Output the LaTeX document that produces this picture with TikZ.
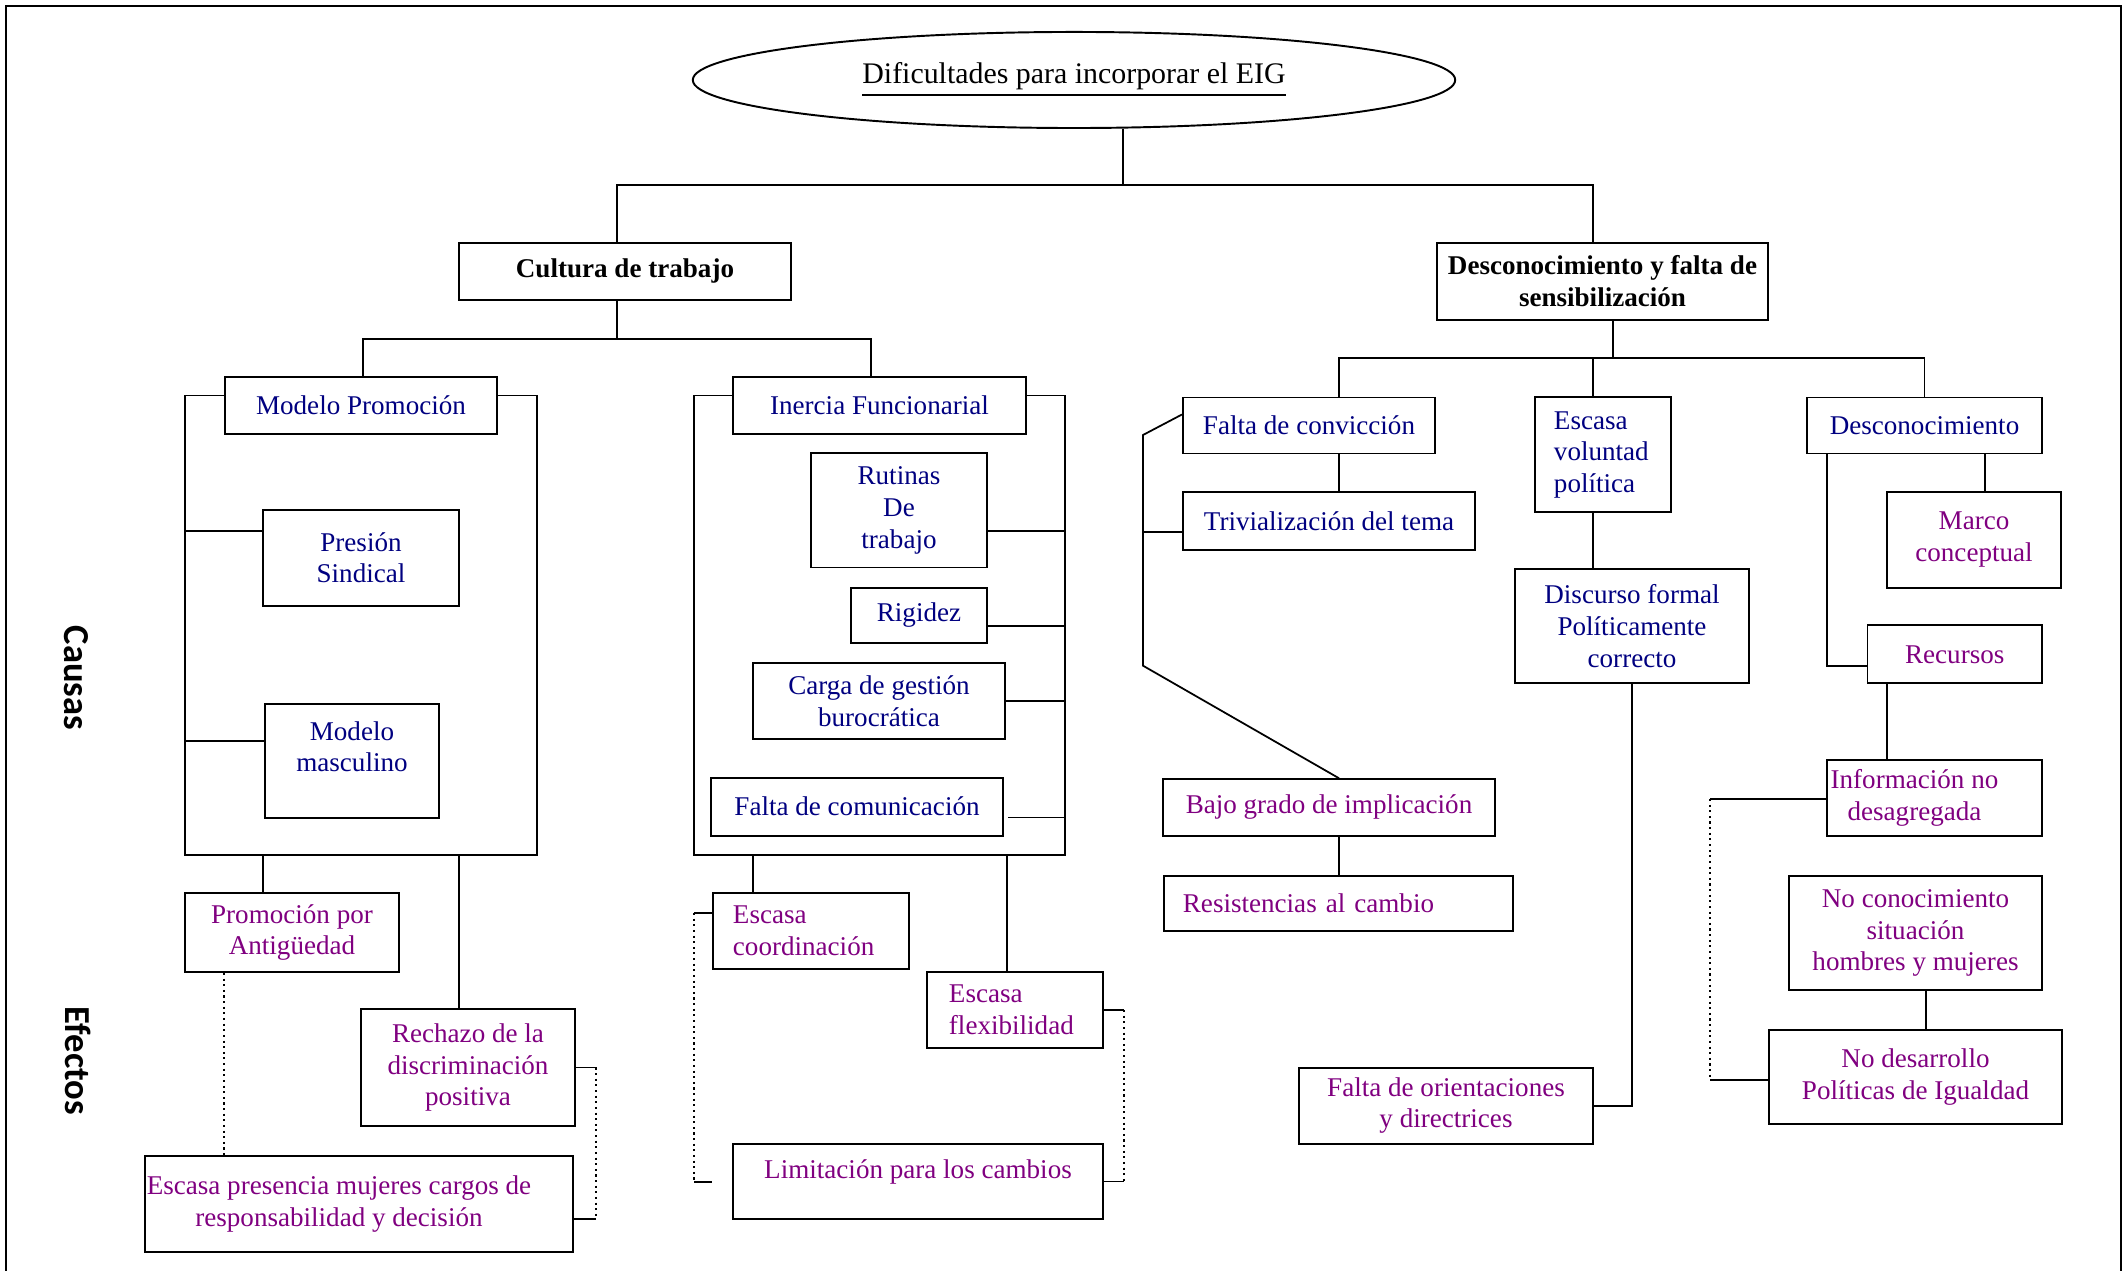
\documentclass[tikz,border=0pt]{standalone}
\usepackage{fontspec}
\setmainfont{Liberation Serif}
\newfontfamily\sidefont{Carlito}
\usepackage{tikz}
\usetikzlibrary{
    shapes.geometric,
    calc
}

\definecolor{causeblue}{RGB}{0,0,128}
\definecolor{effectpurple}{RGB}{128,0,128}

\begin{document}
\begin{tikzpicture}[
            x=0.01cm, y=-0.01cm,
            font=\fontsize{7.7}{9}\selectfont,
            title_node/.style={ellipse, draw, line width=0.55pt, inner sep=0pt, minimum width=7.62cm, minimum height=0.96cm, font=\fontsize{8.5}{10}\selectfont},
            head_block/.style={rectangle, draw, line width=0.55pt, inner sep=0pt, align=center, font=\fontsize{7.7}{9.1}\selectfont\bfseries},
            cause_block/.style={rectangle, draw, line width=0.55pt, inner sep=0pt, align=center, text=causeblue},
            effect_block/.style={rectangle, draw, line width=0.55pt, inner sep=0pt, align=center, text=effectpurple},
            side_label/.style={font=\sidefont\fontsize{10.4}{12}\selectfont\bfseries, rotate=-90},
            link/.style={line width=0.5pt},
            dot_link/.style={line width=0.6pt, densely dotted},
            frame_line/.style={line width=0.7pt}
        ]
        \useasboundingbox (0,0) rectangle (2127,1271);
        \draw[frame_line] (6,1271) -- (6,6) -- (2121,6) -- (2121,1271);

        \node[title_node] (title) at (1074,80) {\underline{Dificultades para incorporar el EIG}};

        \node[head_block, minimum width=3.32cm, minimum height=0.57cm] (cultura) at (625,271.5) {Cultura de trabajo};
        \node[head_block, minimum width=3.31cm, minimum height=0.77cm] (desc_sens) at (1602.5,281.5) {Desconocimiento y falta de\\sensibilización};

        \node[side_label] (causas_lbl) at (76,678) {Causas};
        \node[side_label] (efectos_lbl) at (78,1061) {Efectos};

        % cultura de trabajo
        \node[cause_block, minimum width=2.72cm, minimum height=0.565cm] (modelo_prom) at (361,405.3) {Modelo Promoción};
        \node[cause_block, minimum width=1.96cm, minimum height=0.96cm] (presion) at (361,557.8) {Presión\\Sindical};
        \node[cause_block, minimum width=1.74cm, minimum height=1.14cm] (modelo_masc) at (352,760.6) {Modelo\\masculino\\[-1pt]\mbox{}};

        \node[cause_block, minimum width=2.93cm, minimum height=0.565cm] (inercia) at (879.5,405.3) {Inercia Funcionarial};
        \node[cause_block, minimum width=1.76cm, minimum height=1.14cm] (rutinas) at (899,510.5) {Rutinas\\De\\trabajo};
        \node[cause_block, minimum width=1.36cm, minimum height=0.554cm] (rigidez) at (919,615.5) {Rigidez};
        \node[cause_block, minimum width=2.52cm, minimum height=0.76cm] (carga) at (879,701.3) {Carga de gestión\\burocrática};
        \node[cause_block, minimum width=2.92cm, minimum height=0.58cm] (falta_com) at (857,806.7) {Falta de comunicación};

        \node[effect_block, minimum width=2.14cm, minimum height=0.79cm] (promo_ant) at (292,932.5) {Promoción por\\Antigüedad};
        \node[effect_block, minimum width=2.14cm, minimum height=1.17cm] (rechazo) at (468,1067.5) {Rechazo de la\\discriminación\\positiva};
        \node[effect_block, minimum width=4.28cm, minimum height=0.96cm] (escasa_pres) at (359,1204) {Escasa presencia mujeres cargos de\hspace*{0.4cm}\\responsabilidad y decisión\hspace*{0.4cm}};

        \node[effect_block, align=left, inner xsep=0.2cm, text width=1.56cm, minimum height=0.76cm] (esc_coord) at (811,931) {Escasa\\coordinación};
        \node[effect_block, align=left, inner xsep=0.22cm, text width=1.32cm, minimum height=0.76cm] (esc_flex) at (1015,1010) {Escasa\\flexibilidad};
        \node[effect_block, minimum width=3.70cm, minimum height=0.75cm] (limitacion) at (918,1181.5) {Limitación para los cambios\\[-1.7pt]\mbox{}};

        % desconocimiento y falta de sensibilizacion
        \node[cause_block, minimum width=2.52cm, minimum height=0.56cm] (falta_conv) at (1309,425.5) {Falta de convicción};
        \node[cause_block, minimum width=2.92cm, minimum height=0.583cm] (trivial) at (1329,520.9) {Trivialización del tema};
        \node[cause_block, align=left, inner xsep=0.19cm, text width=0.98cm, minimum height=1.146cm] (esc_vol) at (1603,454.7) {Escasa\\voluntad\\política};
        \node[cause_block, minimum width=2.34cm, minimum height=1.14cm] (discurso) at (1632,626.2) {Discurso formal\\Políticamente\\correcto};
        \node[cause_block, minimum width=2.35cm, minimum height=0.56cm] (desconoc) at (1924.5,425.5) {Desconocimiento};

        \node[effect_block, minimum width=3.315cm, minimum height=0.565cm] (bajo_grado) at (1329,807.5) {Bajo grado de implicación};
        \node[effect_block, align=left, inner xsep=0.19cm, text width=3.11cm, minimum height=0.552cm] (resist) at (1338.5,903.6) {Resistencias al cambio};
        \node[effect_block, minimum width=2.94cm, minimum height=0.758cm] (orient) at (1446,1105.7) {Falta de orientaciones\\y directrices};
        \node[effect_block, minimum width=1.74cm, minimum height=0.96cm] (marco) at (1974,539.8) {Marco\\conceptual};
        \node[effect_block, minimum width=1.745cm, minimum height=0.58cm] (recursos) at (1954.75,654.3) {Recursos};
        \node[effect_block, minimum width=2.15cm, minimum height=0.76cm] (info_nd) at (1934.5,797.8) {Información no\hspace*{0.4cm}\\desagregada\hspace*{0.4cm}};
        \node[effect_block, minimum width=2.52cm, minimum height=1.14cm] (no_conoc) at (1915.5,933) {No conocimiento\\situación\\hombres y mujeres};
        \node[effect_block, minimum width=2.92cm, minimum height=0.935cm] (no_desarr) at (1915.5,1076.8) {No desarrollo\\Políticas de Igualdad};

        % tree lines
        \coordinate (root_bus) at (1123,185);
        \coordinate (cul_top) at (617,185);
        \coordinate (des_top) at (1593,185);
        \draw[link] (title.south -| root_bus) -- (root_bus);
        \draw[link] (cul_top |- cultura.north) -- (cul_top) -- (des_top) -- (des_top |- desc_sens.north);

        \coordinate (cultura_bus) at (617,339);
        \coordinate (mp_top) at (363,339);
        \coordinate (in_top) at (871,339);
        \draw[link] (cultura_bus |- cultura.south) -- (cultura_bus);
        \draw[link] (mp_top |- modelo_prom.north) -- (mp_top) -- (in_top) -- (in_top |- inercia.north);

        % bracket modelo promocion
        \coordinate (mp_top_l) at (185,395.5);
        \coordinate (mp_bot_l) at (185,855);
        \coordinate (mp_bot_r) at (537,855);
        \coordinate (mp_top_r) at (537,395.5);
        \draw[link] (mp_top_l -| modelo_prom.west) -- (mp_top_l) -- (mp_bot_l) -- (mp_bot_r) -- (mp_top_r) -- (mp_top_r -| modelo_prom.east);
        \coordinate (mp_l1) at (185,531);
        \coordinate (mp_l2) at (185,741);
        \draw[link] (mp_l1) -- (mp_l1 -| presion.west);
        \draw[link] (mp_l2) -- (mp_l2 -| modelo_masc.west);
        \coordinate (mp_b1) at (263,855);
        \coordinate (mp_b2) at (459,855);
        \draw[link] (mp_b1) -- (mp_b1 |- promo_ant.north);
        \draw[link] (mp_b2) -- (mp_b2 |- rechazo.north);

        \coordinate (promo_drop) at (224,1158);
        \draw[dot_link] (promo_drop |- promo_ant.south) -- (promo_drop);
        \coordinate (rech_b1) at (596,1067.5);
        \coordinate (rech_b2) at (596,1219);
        \draw[link] (rechazo.east) -- (rech_b1);
        \draw[dot_link] (rech_b1) -- (rech_b2);
        \draw[link] (rech_b2) -- (rech_b2 -| escasa_pres.east);

        % bracket inercia funcionarial
        \coordinate (in_top_l) at (694,395.5);
        \coordinate (in_bot_l) at (694,855);
        \coordinate (in_bot_r) at (1065,855);
        \coordinate (in_top_r) at (1065,395.5);
        \draw[link] (in_top_l -| inercia.west) -- (in_top_l) -- (in_bot_l) -- (in_bot_r) -- (in_top_r) -- (in_top_r -| inercia.east);
        \coordinate (in_r1) at (1065,531);
        \coordinate (in_r2) at (1065,625.7);
        \coordinate (in_r3) at (1065,700.8);
        \coordinate (in_r4) at (1065,817.6);
        \draw[link] (in_r1) -- (in_r1 -| rutinas.east);
        \draw[link] (in_r2) -- (in_r2 -| rigidez.east);
        \draw[link] (in_r3) -- (in_r3 -| carga.east);
        \draw[link] (in_r4) -- ++(-57,0);
        \coordinate (in_b1) at (753,855);
        \coordinate (in_b2) at (1007,855);
        \draw[link] (in_b1) -- (in_b1 |- esc_coord.north);
        \draw[link] (in_b2) -- (in_b2 |- esc_flex.north);

        \coordinate (ec_b1) at (694,913);
        \coordinate (ec_b2) at (694,1182);
        \coordinate (ec_end) at (712,1182);
        \draw[link] (ec_b1 -| esc_coord.west) -- (ec_b1);
        \draw[dot_link] (ec_b1) -- (ec_b2);
        \draw[link] (ec_b2) -- (ec_end);
        \coordinate (ef_b1) at (1124,1010);
        \coordinate (ef_b2) at (1124,1181.5);
        \draw[link] (esc_flex.east) -- (ef_b1);
        \draw[dot_link] (ef_b1) -- (ef_b2);
        \draw[link] (ef_b2) -- (limitacion.east);

        % right branch
        \coordinate (ds_bus) at (1613,358);
        \coordinate (fc_top) at (1339,358);
        \coordinate (ev_top) at (1593,358);
        \coordinate (dc_top) at (1924.5,358);
        \draw[link] (ds_bus |- desc_sens.south) -- (ds_bus);
        \draw[link] (fc_top |- falta_conv.north) -- (fc_top) -- (dc_top) -- (desconoc.north);
        \draw[link] (ev_top) -- (ev_top |- esc_vol.north);
        \draw[link] (fc_top |- falta_conv.south) -- (fc_top |- trivial.north);

        \coordinate (fcl_1) at (1143,435);
        \coordinate (fcl_2) at (1143,665.7);
        \coordinate (fcl_mid) at (1143,531.7);
        \draw[link] ($(falta_conv.north west)+(0,18)$) -- (fcl_1) -- (fcl_2) -- (fc_top |- bajo_grado.north);
        \draw[link] (fcl_mid) -- (fcl_mid -| trivial.west);
        \draw[link] (fc_top |- bajo_grado.south) -- (fc_top |- resist.north);

        \draw[link] (ev_top |- esc_vol.south) -- (ev_top |- discurso.north);
        \draw[link] (discurso.south) |- (orient.east);

        \coordinate (mc_x) at (1985,0);
        \draw[link] (mc_x |- desconoc.south) -- (mc_x |- marco.north);
        \coordinate (dr_turn) at (1827,665.7);
        \draw[link] (dr_turn |- desconoc.south) -- (dr_turn) -- (dr_turn -| recursos.west);
        \coordinate (ri_x) at (1887,0);
        \draw[link] (ri_x |- recursos.south) -- (ri_x |- info_nd.north);
        \coordinate (nn_x) at (1926,0);
        \draw[link] (nn_x |- no_conoc.south) -- (nn_x |- no_desarr.north);

        \coordinate (id_b1) at (1710,799);
        \coordinate (id_b2) at (1710,1080);
        \draw[link] (id_b1 -| info_nd.west) -- (id_b1);
        \draw[dot_link] (id_b1) -- (id_b2);
        \draw[link] (id_b2) -- (id_b2 -| no_desarr.west);

\end{tikzpicture}
\end{document}
